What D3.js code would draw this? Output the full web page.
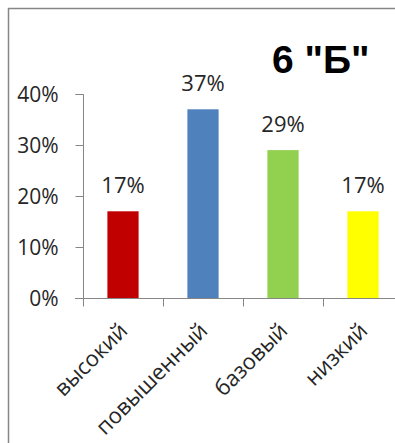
<!DOCTYPE html>
<html><head><meta charset="utf-8">
<script src="https://cdn.jsdelivr.net/npm/d3@7"></script>
<style>html,body{margin:0;padding:0;background:#fff;overflow:hidden}svg{display:block}</style>
</head><body>
<script>
const categories = ["высокий", "повышенный", "базовый", "низкий"];
const values = [0.17, 0.37, 0.29, 0.17];
const colors = ["#C00000", "#4F81BD", "#92D050", "#FFFF00"];
const yTicks = [0, 0.1, 0.2, 0.3, 0.4];
const title = "6 \"Б\"";

const W = 395, H = 443;
const svg = d3.select("body").append("svg").attr("width", W).attr("height", H);
const font = "'Open Sans', 'Noto Sans', sans-serif";
const axisCol = "#868686", textCol = "#262626";

// frame
svg.append("rect").attr("x", 8.5).attr("y", 8.5).attr("width", 420).attr("height", 460)
  .attr("fill", "none").attr("stroke", axisCol).attr("stroke-width", 1.5);

const y = d3.scaleLinear().domain([0, 0.4]).range([298, 94]);
const x = d3.scaleBand().domain(categories).range([83, 403]).paddingInner(0.61).paddingOuter(0.305);

// y axis
const ya = svg.append("g").attr("transform", "translate(83.5,0)")
  .call(d3.axisLeft(y).tickValues(yTicks).tickFormat(d3.format(".0%")).tickSize(8).tickPadding(17));
ya.select(".domain").attr("stroke", axisCol).attr("d", `M-8,${y(0.4)+0.5}H0V${y(0)}`);
ya.selectAll(".tick line").attr("stroke", axisCol);
ya.selectAll(".tick text").attr("fill", textCol).attr("dy", "0.36em").style("font-family", font).style("font-size", "21px");

// bars
svg.selectAll("rect.bar").data(values).join("rect").attr("class", "bar")
  .attr("x", (d, i) => x(categories[i])).attr("width", x.bandwidth())
  .attr("y", d => y(d)).attr("height", d => y(0) - y(d))
  .attr("fill", (d, i) => colors[i]);

// x axis
const xa = svg.append("g").attr("transform", `translate(0,${y(0) + 0.5})`);
xa.append("line").attr("x1", 75).attr("x2", 403).attr("stroke", axisCol);
const bounds = categories.map(c => x(c) + x.bandwidth() / 2 - x.step() / 2).concat([x.range()[1]]);
xa.selectAll("line.t").data(bounds).join("line").attr("class", "t")
  .attr("x1", d => Math.round(d) + 0.5).attr("x2", d => Math.round(d) + 0.5).attr("y1", 0).attr("y2", 8)
  .attr("stroke", axisCol);

svg.selectAll("text.cat").data(categories).join("text").attr("class", "cat")
  .attr("transform", d => `translate(${x(d) + x.bandwidth() / 2 + 6},332) rotate(-45)`)
  .attr("text-anchor", "end").attr("fill", textCol)
  .style("font-family", font).style("font-size", "22px").text(d => d);

// data labels
svg.selectAll("text.val").data(values).join("text").attr("class", "val")
  .attr("x", (d, i) => x(categories[i]) + x.bandwidth() / 2)
  .attr("y", d => y(d) - 18)
  .attr("text-anchor", "middle").attr("fill", textCol)
  .style("font-family", font).style("font-size", "22px")
  .text(d => d3.format(".0%")(d));

// title
svg.append("text").attr("x", 272).attr("y", 73).attr("fill", "#000")
  .style("font-family", "'Liberation Sans', Arial, sans-serif").style("font-size", "39px").style("font-weight", "bold").text(title);
</script>
</body></html>
